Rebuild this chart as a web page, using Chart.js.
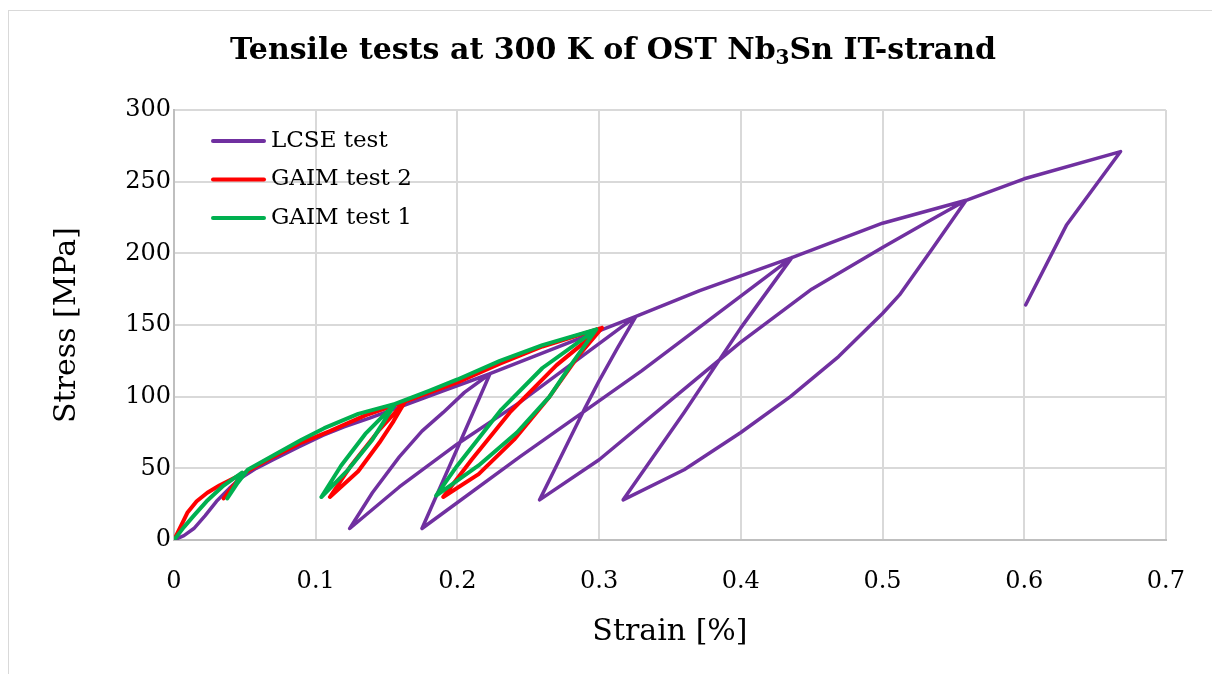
<!DOCTYPE html>
<html>
<head>
<meta charset="utf-8">
<script src="https://cdn.jsdelivr.net/npm/chart.js@4/dist/chart.umd.min.js"></script>
<style>
  body { margin: 0; background: #fff; }
  #wrap { width: 1212px; height: 674px; }
</style>
</head>
<body>
<div id="wrap"><canvas id="myChart"></canvas></div>
<script>
const xTickLabels = ['0', '0.1', '0.2', '0.3', '0.4', '0.5', '0.6', '0.7'];
const yTickLabels = ['0', '50', '100', '150', '200', '250', '300'];
const seriesLabels = ['LCSE test', 'GAIM test 2', 'GAIM test 1'];

// LCSE test, one continuous trace through all the unload / reload branches
const lcseStrain = [0, 0.007, 0.014, 0.022, 0.03, 0.039, 0.047, 0.058, 0.07, 0.088, 0.105, 0.12, 0.138, 0.16, 0.19, 0.223,
    0.205, 0.19, 0.175, 0.159, 0.14, 0.124,
    0.159, 0.2, 0.244, 0.3, 0.326,
    0.313, 0.3, 0.29, 0.28, 0.27, 0.258,
    0.3, 0.35, 0.4, 0.45, 0.5, 0.53, 0.559,
    0.535, 0.512, 0.5, 0.469, 0.435, 0.4, 0.36, 0.317,
    0.36, 0.4, 0.436,
    0.33, 0.244, 0.175,
    0.2, 0.223,
    0.277, 0.326, 0.371, 0.436, 0.5, 0.559, 0.6, 0.668,
    0.63, 0.601];
const lcseStress = [0, 3, 8, 17, 27, 36, 43, 50, 56, 65, 73, 79, 85, 93, 104, 116,
    103, 89, 76, 58, 33, 8,
    37, 67, 96, 137, 156,
    134, 111, 92, 72, 52, 28,
    56, 97, 138, 175, 204, 221, 237,
    203, 171, 158, 128, 100, 75, 49, 28,
    89, 148, 197,
    118, 58, 8,
    64, 116,
    137, 156, 174, 197, 221, 237, 252, 271,
    220, 164];

// GAIM test 2
const gaim2Strain = [0, 0.005, 0.0094, 0.016, 0.0235, 0.032, 0.04, 0.048,
    0.041, 0.035, 0.042, 0.05,
    0.07, 0.09, 0.11, 0.135, 0.163,
    0.155, 0.145, 0.13, 0.11, 0.125, 0.145, 0.163,
    0.2, 0.23, 0.26, 0.302,
    0.285, 0.265, 0.24, 0.215, 0.19,
    0.21, 0.237, 0.27, 0.302];
const gaim2Stress = [0, 10, 19, 27, 33, 38, 42, 46,
    36, 29, 38, 47,
    58, 68, 76, 87, 96.5,
    83, 68, 48, 30, 52, 77, 96.5,
    110, 123, 135, 148,
    128, 100, 70, 46, 30,
    56, 89, 122, 148];

// GAIM test 1
const gaim1Strain = [0, 0.007, 0.014, 0.023, 0.035, 0.048,
    0.043, 0.0376, 0.045, 0.052,
    0.07, 0.09, 0.106, 0.13, 0.156,
    0.14, 0.122, 0.104, 0.118, 0.135, 0.156,
    0.18, 0.2, 0.23, 0.26, 0.298,
    0.28, 0.265, 0.242, 0.215, 0.185,
    0.2, 0.231, 0.26, 0.298];
const gaim1Stress = [0, 9, 17, 27, 38, 47,
    38, 29, 40, 49,
    59, 70, 78, 88, 95,
    70, 48, 30, 52, 74, 95,
    104, 112, 125, 136, 147,
    122, 100, 75, 52, 31,
    52, 91, 120, 147];

function toPoints(xs, ys) {
    return xs.map((x, i) => ({ x: x, y: ys[i] }));
}

const serif = "'DejaVu Serif', 'Liberation Serif', serif";

// outer frame, title with subscript, legend inside the plot
const decorations = {
    id: 'decorations',
    beforeDraw(chart) {
        const ctx = chart.ctx;
        ctx.save();
        ctx.fillStyle = '#ffffff';
        ctx.fillRect(0, 0, chart.width, chart.height);
        ctx.strokeStyle = '#d9d9d9';
        ctx.lineWidth = 1;
        ctx.strokeRect(8.5, 10.5, chart.width + 20, chart.height + 20);
        ctx.restore();
    },
    afterDraw(chart) {
        const ctx = chart.ctx;
        ctx.save();
        ctx.fillStyle = '#000';
        ctx.textBaseline = 'middle';

        const big = 'bold 30px ' + serif;
        const small = 'bold 20px ' + serif;
        const parts = [['Tensile tests at 300 K of OST Nb', big, 0], ['3', small, 8], ['Sn IT-strand', big, 0]];
        let total = 0;
        parts.forEach(p => { ctx.font = p[1]; total += ctx.measureText(p[0]).width; });
        let x = 613 - total / 2;
        parts.forEach(p => {
            ctx.font = p[1];
            ctx.textAlign = 'left';
            ctx.fillText(p[0], x, 51 + p[2]);
            x += ctx.measureText(p[0]).width;
        });

        ctx.font = '23px ' + serif;
        chart.data.datasets.forEach((ds, i) => {
            const y = 141 + i * 38.5;
            ctx.strokeStyle = ds.borderColor;
            ctx.lineWidth = 4;
            ctx.lineCap = 'round';
            ctx.beginPath();
            ctx.moveTo(213, y);
            ctx.lineTo(264, y);
            ctx.stroke();
            ctx.fillText(ds.label, 271, y);
        });
        ctx.restore();
    }
};

const ctx = document.getElementById('myChart').getContext('2d');
const chart = new Chart(ctx, {
    type: 'scatter',
    data: {
        datasets: [
            {
                label: seriesLabels[0],
                data: toPoints(lcseStrain, lcseStress),
                borderColor: '#7030a0',
                borderWidth: 3.5,
                order: 2,
            },
            {
                label: seriesLabels[1],
                data: toPoints(gaim2Strain, gaim2Stress),
                borderColor: '#ff0000',
                borderWidth: 4,
                order: 1,
            },
            {
                label: seriesLabels[2],
                data: toPoints(gaim1Strain, gaim1Stress),
                borderColor: '#00b050',
                borderWidth: 4,
                order: 0,
            }
        ]
    },
    options: {
        responsive: true,
        maintainAspectRatio: false,
        animation: false,
        showLine: true,
        elements: {
            point: { radius: 0, hoverRadius: 0 },
            line: { tension: 0, borderJoinStyle: 'round', borderCapStyle: 'round', fill: false }
        },
        layout: { padding: { top: 110, right: 45, left: 0, bottom: 0 } },
        plugins: {
            legend: { display: false },
            title: { display: false },
            tooltip: { enabled: false }
        },
        scales: {
            x: {
                type: 'linear',
                min: 0,
                max: 0.7,
                afterFit(scale) { scale.height = 134; },
                afterBuildTicks(scale) {
                    scale.ticks = xTickLabels.map(t => ({ value: parseFloat(t) }));
                },
                ticks: {
                    padding: 27,
                    color: '#000',
                    font: { family: serif, size: 24 },
                    maxRotation: 0,
                    callback: (value, index) => xTickLabels[index]
                },
                grid: { color: '#d9d9d9', lineWidth: 2, drawTicks: false },
                border: { color: '#bfbfbf', width: 2 },
                title: {
                    display: true,
                    text: 'Strain [%]',
                    color: '#000',
                    font: { family: serif, size: 30 },
                    padding: { top: 0, bottom: 24 }
                }
            },
            y: {
                type: 'linear',
                min: 0,
                max: 300,
                afterFit(scale) { scale.width = 174; },
                afterBuildTicks(scale) {
                    scale.ticks = yTickLabels.map(t => ({ value: parseFloat(t) }));
                },
                ticks: {
                    padding: 3,
                    color: '#000',
                    font: { family: serif, size: 24 },
                    callback: (value, index) => yTickLabels[index]
                },
                grid: { color: '#d9d9d9', lineWidth: 2, drawTicks: false },
                border: { color: '#bfbfbf', width: 2 },
                title: {
                    display: true,
                    text: 'Stress [MPa]',
                    color: '#000',
                    font: { family: serif, size: 30 },
                    padding: { top: 49, bottom: 0 }
                }
            }
        }
    },
    plugins: [decorations]
});
</script>
</body>
</html>
